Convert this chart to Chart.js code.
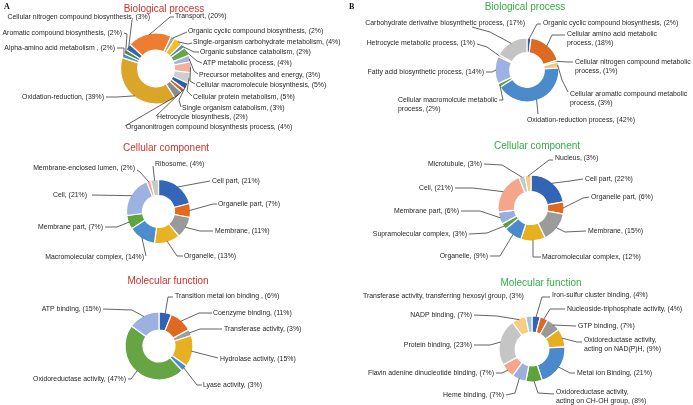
<!DOCTYPE html>
<html>
<head>
<meta charset="utf-8">
<script src="https://cdn.jsdelivr.net/npm/chart.js@4"></script>
<style>
  html, body { margin: 0; padding: 0; background: #fff; }
  #wrap { position: relative; width: 693px; height: 405px; overflow: hidden; }
  #wrap canvas { position: absolute; left: 0; top: 0; }
</style>
</head>
<body>
<div id="wrap">
  <canvas id="aBio" width="693" height="405"></canvas>
  <canvas id="aCell" width="693" height="405"></canvas>
  <canvas id="aMol" width="693" height="405"></canvas>
  <canvas id="bBio" width="693" height="405"></canvas>
  <canvas id="bCell" width="693" height="405"></canvas>
  <canvas id="bMol" width="693" height="405"></canvas>
</div>
<script>
const W = 693, H = 405;
const RED = '#d2302c';
const GREEN = '#35ac46';

// ---- data: panel A ----
const aBioLabels = [
    'Organic cyclic compound biosynthesis', 'Single-organism carbohydrate metabolism',
    'Organic substance catabolism', 'ATP metabolic process', 'Precursor metabolites and energy',
    'Cellular macromolecule biosynthesis', 'Cellular protein metabolism', 'Single organism catabolism',
    'Hetrocycle biosynthesis', 'Organonitrogen compound biosynthesis process', 'Oxidation-reduction',
    'Alpha-amino acid metabolism ', 'Aromatic compound biosynthesis',
    'Cellular nitrogen compound biosynthesis', 'Transport'
];
const aBioValues = [2, 4, 2, 4, 3, 5, 5, 3, 2, 4, 39, 2, 2, 3, 20];

const aCellLabels = ['Cell part', 'Organelle part', 'Membrane', 'Organelle', 'Macromolecular complex',
    'Membrane part', 'Cell', 'Membrane-enclosed lumen', 'Ribosome'];
const aCellValues = [21, 7, 11, 13, 14, 7, 21, 2, 4];

const aMolLabels = ['Transition metal ion binding ', 'Coenzyme binding', 'Transferase activity',
    'Hydrolase activity', 'Lyase activity', 'Oxidoreductase activity', 'ATP binding'];
const aMolValues = [6, 11, 3, 15, 3, 47, 15];

// ---- data: panel B ----
const bBioLabels = ['Organic cyclic compound biosynthesis', 'Cellular amino acid metabolic process',
    'Cellular nitrogen compound metabolic process', 'Cellular aromatic compound metabolic process',
    'Oxidation-reduction process', 'Cellular macromolcule metabolic process',
    'Fatty acid biosynthetic process', 'Hetrocycle metabolic process',
    'Carbohydrate derivative biosynthetic process'];
const bBioValues = [2, 18, 1, 3, 42, 2, 14, 1, 17];

const bCellLabels = ['Cell part', 'Organelle part', 'Membrane', 'Macromolecular complex', 'Organelle',
    'Supramolecular complex', 'Membrane part', 'Cell', 'Microtubule', 'Nucleus'];
const bCellValues = [22, 6, 15, 12, 9, 3, 6, 21, 3, 3];

const bMolLabels = ['Iron-sulfur cluster binding', 'Nucleoside-triphosphate activity', 'GTP binding',
    'Oxidoreductase activity, acting on NAD(P)H', 'Metal ion Binding',
    'Oxidoreductase activity, acting on CH-OH group', 'Heme binding',
    'Flavin adenine dinucleotide binding', 'Protein binding', 'NADP binding',
    'Transferase activity, transferring hexosyl group'];
const bMolValues = [4, 4, 7, 9, 21, 8, 7, 7, 23, 7, 3];

// ---- colours ----
const aBioColors = ['#a3a3a3', '#f4bf22', '#4d8fcc', '#63a840', '#a3b6e3', '#f5b09a', '#cfcfcf',
    '#2f5da8', '#c4602a', '#8c8c8c', '#dba52a', '#4d8fcc', '#4f8b36', '#3564b0', '#ee7d31'];
const aCellColors = ['#3366b8', '#e06a1e', '#9a9a9a', '#e8b222', '#4b8dcd', '#5ea53c', '#9db2e0',
    '#f3a48a', '#c8c8c8'];
const aMolColors = ['#3062b5', '#de6a22', '#9e9e9e', '#e7b023', '#4a8acb', '#67a544', '#9db1e1'];
const bBioColors = ['#2f5fb0', '#dc6a22', '#a0a0a0', '#f3c77a', '#4b8acb', '#5ea53c', '#9db2e3',
    '#f4ae96', '#c4c4c4'];
const bCellColors = ['#3365b7', '#df6a1f', '#9b9b9b', '#e8b021', '#4a8bcc', '#5da33b', '#98aee0',
    '#f4a68c', '#c7c7c7', '#f9cc7c'];
const bMolColors = ['#3263b5', '#de6920', '#999999', '#e6ae20', '#4a89cb', '#5da23a', '#9cb0e0',
    '#f3a68c', '#c5c5c5', '#f9cd80', '#9ec3e8'];

// ---- label layout (text anchor + leader line start/elbow) ----
const aBioLayout = [
    { x: 188, y: 31, al: 'left', pts: [[187, 32]] },
    { x: 193, y: 42, al: 'left', pts: [[192, 43], [188, 44]] },
    { x: 200, y: 52, al: 'left', pts: [[199, 52], [194, 52]] },
    { x: 203, y: 63, al: 'left', pts: [[202, 63], [197, 61]] },
    { x: 199, y: 75, al: 'left', pts: [[198, 74], [194, 71]] },
    { x: 196, y: 85, al: 'left', pts: [[195, 84], [190, 81]] },
    { x: 193, y: 97, al: 'left', pts: [[192, 96], [187, 91]] },
    { x: 182, y: 108, al: 'left', pts: [[181, 107], [179, 100]] },
    { x: 157, y: 117, al: 'left', pts: [[156, 116]] },
    { x: 126, y: 127, al: 'left', pts: [[125, 126]] },
    { x: 104, y: 97, al: 'right', pts: [[106, 97], [117, 97]] },
    { x: 115, y: 48, al: 'right', pts: [[117, 48], [124, 48]] },
    { x: 122, y: 33, al: 'right', pts: [[124, 33], [127, 34]] },
    { x: 150, y: 17, al: 'right', pts: [[132, 20]] },
    { x: 175, y: 16, al: 'left', pts: [[174, 17], [170, 17]] }
];
const aCellLayout = [
    { x: 212, y: 181, al: 'left', pts: [[210, 181]] },
    { x: 218, y: 204, al: 'left', pts: [[217, 204], [213, 204]] },
    { x: 215, y: 231, al: 'left', pts: [[213, 231], [200, 231]] },
    { x: 184, y: 256, al: 'left', pts: [[183, 256], [177, 256]] },
    { x: 144, y: 257, al: 'right', pts: [[146, 256]] },
    { x: 103, y: 227, al: 'right', pts: [[105, 227], [117, 227]] },
    { x: 87, y: 195, al: 'right', pts: [[92, 195]] },
    { x: 135, y: 168, al: 'right', pts: [[137, 170], [140, 172]] },
    { x: 155, y: 164, al: 'left', pts: [[153, 166]] }
];
const aMolLayout = [
    { x: 175, y: 296, al: 'left', pts: [[173, 297], [168, 297]] },
    { x: 213, y: 313, al: 'left', pts: [[212, 313], [199, 313]] },
    { x: 224, y: 329, al: 'left', pts: [[222, 329], [200, 329]] },
    { x: 220, y: 359, al: 'left', pts: [[218, 358]] },
    { x: 203, y: 385, al: 'left', pts: [[202, 385], [197, 385]] },
    { x: 126, y: 379, al: 'right', pts: [[128, 379], [131, 379]] },
    { x: 101, y: 309, al: 'right', pts: [[103, 309], [132, 310]] }
];
const bBioLayout = [
    { x: 543, y: 23, al: 'left', pts: [[541, 24], [537, 24]] },
    { x: 567, y: 34, al: 'left', split: 'process', pts: [[565, 35], [552, 35]] },
    { x: 575, y: 62, al: 'left', split: 'process', pts: [[573, 62], [568, 62]] },
    { x: 570, y: 94, al: 'left', split: 'process', pts: [[568, 92], [562, 80]] },
    { x: 527, y: 120, al: 'left', pts: [[538, 114]] },
    { x: 398, y: 100, al: 'left', split: 'process', pts: [[499, 100], [503, 100]] },
    { x: 484, y: 72, al: 'right', pts: [[486, 72], [492, 72]] },
    { x: 475, y: 43, al: 'right', pts: [[477, 44], [487, 47]] },
    { x: 525, y: 23, al: 'right', pts: [[472, 27], [490, 32]] }
];
const bCellLayout = [
    { x: 585, y: 179, al: 'left', pts: [[583, 179], [570, 181]] },
    { x: 591, y: 197, al: 'left', pts: [[589, 197], [583, 198]] },
    { x: 588, y: 231, al: 'left', pts: [[586, 231], [565, 232]] },
    { x: 542, y: 257, al: 'left', pts: [[541, 257], [533, 257]] },
    { x: 488, y: 256, al: 'right', pts: [[490, 256], [500, 256]] },
    { x: 467, y: 234, al: 'right', pts: [[469, 234], [487, 233]] },
    { x: 459, y: 211, al: 'right', pts: [[461, 211], [480, 211]] },
    { x: 453, y: 188, al: 'right', pts: [[455, 188], [473, 188]] },
    { x: 482, y: 164, al: 'right', pts: [[484, 164], [502, 165]] },
    { x: 555, y: 158, al: 'left', pts: [[553, 160], [549, 160]] }
];
const bMolLayout = [
    { x: 552, y: 295, al: 'left', pts: [[550, 297], [542, 297]] },
    { x: 567, y: 309, al: 'left', pts: [[565, 309], [550, 309]] },
    { x: 578, y: 326, al: 'left', pts: [[576, 326]] },
    { x: 584, y: 340, al: 'left', split: 'acting', pts: [[582, 342], [577, 342]] },
    { x: 577, y: 373, al: 'left', pts: [[575, 373], [570, 373]] },
    { x: 556, y: 392, al: 'left', split: 'acting', pts: [[554, 394], [538, 393]] },
    { x: 504, y: 395, al: 'right', pts: [[506, 395], [515, 393]] },
    { x: 494, y: 373, al: 'right', pts: [[496, 373], [502, 373]] },
    { x: 472, y: 345, al: 'right', pts: [[474, 345], [490, 345]] },
    { x: 472, y: 315, al: 'right', pts: [[474, 315], [497, 316]] },
    { x: 363, y: 296, al: 'left', pts: [] }
];

const LABEL_FONT = '6.9px "Liberation Sans", Arial, sans-serif';
const TITLE_FONT = '10px "Liberation Sans", Arial, sans-serif';

function leaderLabels(layout, title) {
    return {
        id: 'leaderLabels',
        afterDatasetsDraw(chart) {
            const ctx = chart.ctx;
            const meta = chart.getDatasetMeta(0);
            const labels = chart.data.labels;
            const vals = chart.data.datasets[0].data;
            ctx.save();
            ctx.font = LABEL_FONT;
            ctx.fillStyle = '#262626';
            ctx.strokeStyle = '#3c3c3c';
            ctx.lineWidth = 0.8;
            ctx.textBaseline = 'middle';
            meta.data.forEach((arc, i) => {
                const L = layout[i];
                const p = arc.getProps(['x', 'y', 'startAngle', 'endAngle', 'outerRadius'], true);
                const a = (p.startAngle + p.endAngle) / 2;
                const ex = p.x + Math.cos(a) * (p.outerRadius - 1);
                const ey = p.y + Math.sin(a) * (p.outerRadius - 1);
                if (L.pts.length) {
                    ctx.beginPath();
                    ctx.moveTo(L.pts[0][0], L.pts[0][1]);
                    L.pts.slice(1).forEach(q => ctx.lineTo(q[0], q[1]));
                    ctx.lineTo(ex, ey);
                    ctx.stroke();
                }
                const text = `${labels[i]}, (${vals[i]}%)`;
                let lines = [text];
                if (L.split) {
                    const k = text.indexOf(L.split);
                    lines = [text.slice(0, k).trim(), text.slice(k)];
                }
                ctx.textAlign = L.al;
                lines.forEach((s, j) => ctx.fillText(s, L.x, L.y + j * 9));
            });
            ctx.font = TITLE_FONT;
            ctx.fillStyle = title.color;
            ctx.textAlign = 'center';
            ctx.fillText(title.text, title.x, title.y);
            if (title.tag) {
                ctx.font = 'bold 8px "Liberation Serif", "Times New Roman", serif';
                ctx.fillStyle = '#111';
                ctx.textAlign = 'left';
                ctx.fillText(title.tag, title.tagX, 7);
            }
            ctx.restore();
        }
    };
}

function makeDonut(id, labels, values, colors, geo, layout, title) {
    const bw = 1.2;
    const r = geo.r + bw / 2;
    new Chart(document.getElementById(id), {
        type: 'doughnut',
        data: {
            labels: labels,
            datasets: [{
                data: values,
                backgroundColor: colors,
                borderColor: '#ffffff',
                borderWidth: bw
            }]
        },
        options: {
            responsive: false,
            animation: false,
            events: [],
            cutout: geo.cut,
            rotation: geo.rot || 0,
            layout: {
                padding: {
                    left: geo.cx - r,
                    top: geo.cy - r,
                    right: W - (geo.cx + r),
                    bottom: H - (geo.cy + r)
                }
            },
            plugins: { legend: { display: false }, tooltip: { enabled: false } }
        },
        plugins: [leaderLabels(layout, title)]
    });
}

makeDonut('aBio', aBioLabels, aBioValues, aBioColors,
    { cx: 156, cy: 68.5, r: 35.5, cut: '52%', rot: 25 }, aBioLayout,
    { text: 'Biological process', x: 164, y: 9, color: RED, tag: 'A', tagX: 4 });
makeDonut('aCell', aCellLabels, aCellValues, aCellColors,
    { cx: 158.5, cy: 211.5, r: 32, cut: '50%' }, aCellLayout,
    { text: 'Cellular component', x: 166, y: 148, color: RED });
makeDonut('aMol', aMolLabels, aMolValues, aMolColors,
    { cx: 159, cy: 346, r: 34, cut: '47%' }, aMolLayout,
    { text: 'Molecular function', x: 168, y: 281, color: RED });
makeDonut('bBio', bBioLabels, bBioValues, bBioColors,
    { cx: 527, cy: 70, r: 32, cut: '54%' }, bBioLayout,
    { text: 'Biological process', x: 525, y: 7, color: GREEN, tag: 'B', tagX: 349 });
makeDonut('bCell', bCellLabels, bCellValues, bCellColors,
    { cx: 531, cy: 208, r: 33, cut: '50%' }, bCellLayout,
    { text: 'Cellular component', x: 537, y: 146, color: GREEN });
makeDonut('bMol', bMolLabels, bMolValues, bMolColors,
    { cx: 532, cy: 349, r: 33, cut: '51%' }, bMolLayout,
    { text: 'Molecular function', x: 541, y: 283, color: GREEN });
</script>
</body>
</html>
